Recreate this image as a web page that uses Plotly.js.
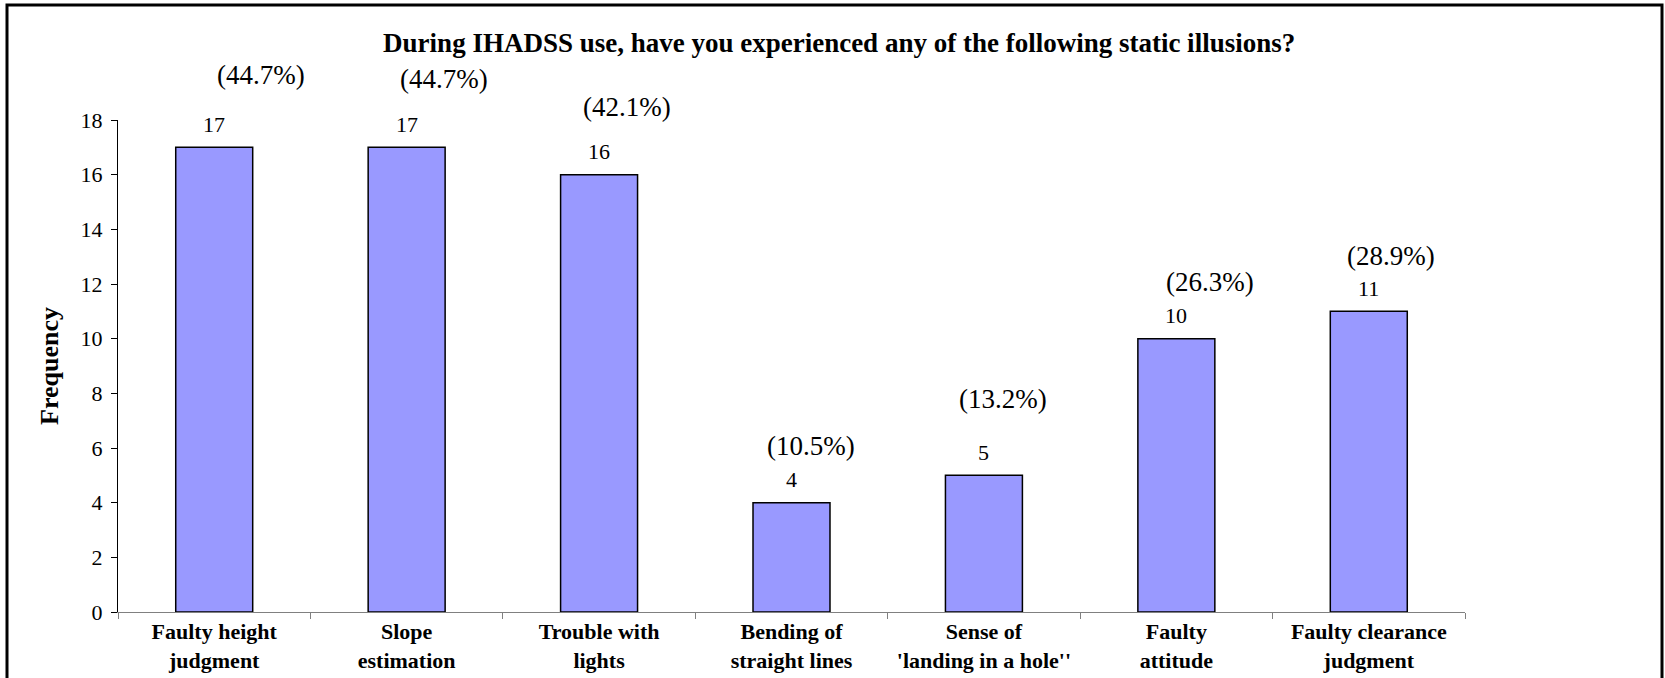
<!DOCTYPE html>
<html>
<head>
<meta charset="utf-8">
<script src="https://cdn.plot.ly/plotly-3.0.1.min.js"></script>
<style>
  html, body { margin: 0; padding: 0; background: #ffffff; }
  #chart { width: 1665px; height: 678px; }
</style>
</head>
<body>
<div id="chart"></div>
<script>
// ---- data ----
const categories = [
  "Faulty height<br>judgment",
  "Slope<br>estimation",
  "Trouble with<br>lights",
  "Bending of<br>straight lines",
  "Sense of<br>'landing in a hole''",
  "Faulty<br>attitude",
  "Faulty clearance<br>judgment"
];
const frequency = [17, 17, 16, 4, 5, 10, 11];
const percentLabels = ["(44.7%)", "(44.7%)", "(42.1%)", "(10.5%)", "(13.2%)", "(26.3%)", "(28.9%)"];
const yTickVals = [0, 2, 4, 6, 8, 10, 12, 14, 16, 18];

// ---- label placement (styling) ----
const pctShiftX = [47, 37, 28, 19, 19, 34, 22];
const pctShiftY = [72, 68, 68, 57, 76, 57, 55];

const serif = "Liberation Serif, Times New Roman, serif";

const trace = {
  type: "bar",
  x: categories,
  y: frequency,
  marker: { color: "#9999FF", line: { color: "#000000", width: 1.5 } },
  hoverinfo: "x+y"
};

const annotations = [];
categories.forEach((c, i) => {
  annotations.push({
    x: c, y: frequency[i], xref: "x", yref: "y",
    text: String(frequency[i]), showarrow: false,
    yanchor: "middle", xanchor: "center", yshift: 23,
    font: { family: serif, size: 22, color: "#000" }
  });
  annotations.push({
    x: c, y: frequency[i], xref: "x", yref: "y",
    text: percentLabels[i], showarrow: false,
    yanchor: "middle", xanchor: "center",
    xshift: pctShiftX[i], yshift: pctShiftY[i],
    font: { family: serif, size: 27, color: "#000" }
  });
});

const layout = {
  width: 1665, height: 678,
  margin: { l: 118, r: 200, t: 120, b: 66 },
  paper_bgcolor: "#ffffff", plot_bgcolor: "#ffffff",
  showlegend: false,
  bargap: 0.6,
  title: {
    text: "<b>During IHADSS use, have you experienced any of the following static illusions?</b>",
    font: { family: serif, size: 27, color: "#000" },
    xref: "container", yref: "container",
    x: 0.504, y: 0.937, xanchor: "center", yanchor: "middle"
  },
  xaxis: {
    type: "category",
    showline: true, linecolor: "#808080", linewidth: 1,
    ticks: "outside", ticklen: 6, tickcolor: "#808080",
    tickson: "boundaries",
    showgrid: false, zeroline: false,
    tickfont: { family: serif, size: 22, color: "#000", weight: "bold" },
    fixedrange: true
  },
  yaxis: {
    range: [0, 18],
    tickvals: yTickVals,
    showline: true, linecolor: "#000000", linewidth: 1,
    ticks: "outside", ticklen: 6, tickcolor: "#000",
    ticklabelstandoff: 4,
    showgrid: false, zeroline: false,
    tickfont: { family: serif, size: 22, color: "#000" },
    title: { text: "<b>Frequency</b>", font: { family: serif, size: 26, color: "#000" }, standoff: 14 },
    fixedrange: true
  },
  annotations: annotations,
  shapes: [{
    type: "rect", xref: "paper", yref: "paper",
    x0: (7 - 118) / 1347, x1: (1662 - 118) / 1347,
    y0: -0.3, y1: (612 - 5) / 492,
    line: { color: "#000", width: 3 }, fillcolor: "rgba(0,0,0,0)", layer: "above"
  }]
};

Plotly.newPlot("chart", [trace], layout, { displayModeBar: false, staticPlot: true });
</script>
</body>
</html>
